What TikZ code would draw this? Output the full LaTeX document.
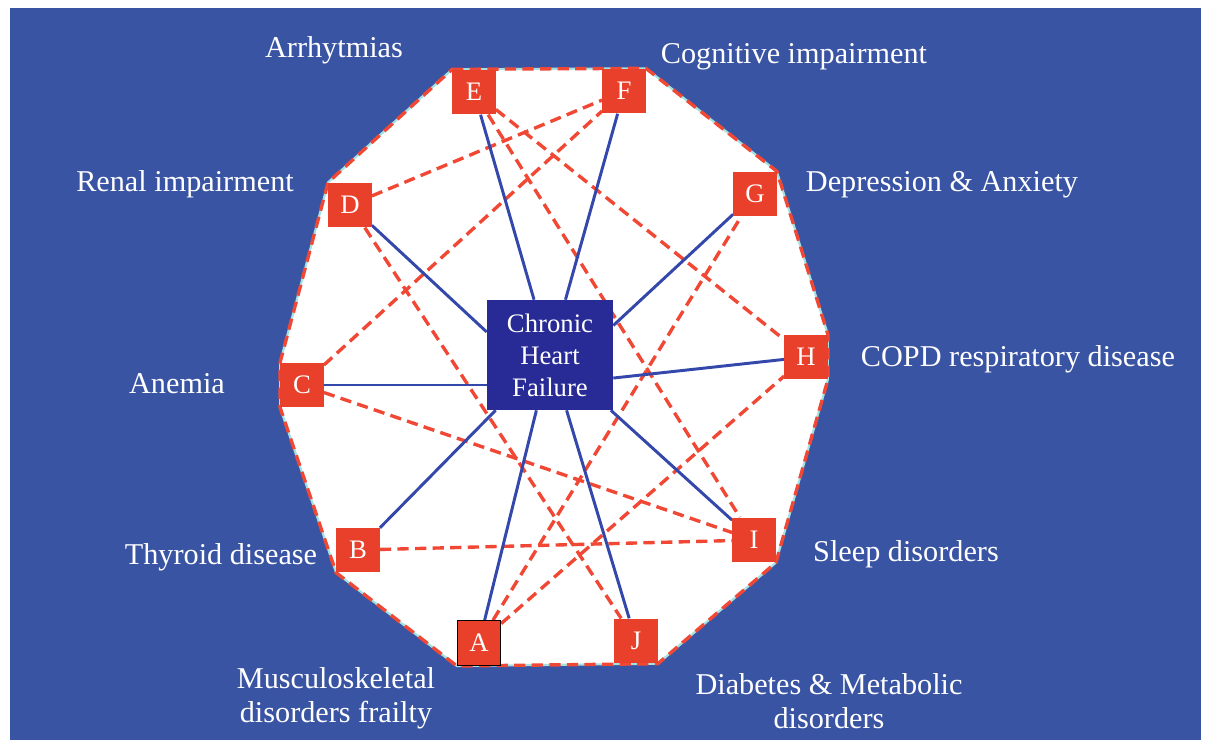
\documentclass[tikz,border=0pt]{standalone}
\usepackage{fontspec}
\setmainfont{Liberation Serif}
\usetikzlibrary{positioning}

\definecolor{bgblue}{RGB}{58,84,164}
\definecolor{hubblue}{RGB}{40,42,150}
\definecolor{boxred}{RGB}{232,64,42}
\definecolor{linkred}{RGB}{240,72,52}
\definecolor{spokeblue}{RGB}{52,72,172}
\definecolor{rimcyan}{RGB}{165,225,225}

\pgfdeclarelayer{bg}
\pgfdeclarelayer{links}
\pgfsetlayers{bg,links,main}

\begin{document}
\begin{tikzpicture}[x=0.025cm, y=-0.025cm,
    cond/.style={fill=boxred, text=white, minimum width=1.08cm, minimum height=1.12cm,
      inner sep=0pt, font=\fontsize{19}{22}\selectfont},
    hub/.style={fill=hubblue, text=white, minimum width=3.15cm, minimum height=2.75cm,
      inner sep=0pt, align=center, font=\fontsize{19}{22.8}\selectfont},
    lbl/.style={text=white, align=center, font=\fontsize{21.5}{24}\selectfont},
    spoke/.style={spokeblue, line width=2.1pt},
    link/.style={linkred, line width=2.4pt, dash pattern=on 8pt off 4.5pt}]
    \useasboundingbox (0,0) rectangle (1210,744);

    % Central condition
    \node[hub] (chf) at (550,355) {Chronic\\Heart\\Failure};

    % Comorbidities
    \node[cond, draw=black, line width=0.8pt] (A) at (479,643) {A};
    \node[cond] (B) at (358,550) {B};
    \node[cond] (C) at (302,385) {C};
    \node[cond] (D) at (350,205) {D};
    \node[cond] (E) at (474,92) {E};
    \node[cond] (F) at (624,91) {F};
    \node[cond] (G) at (755,194) {G};
    \node[cond] (H) at (806,357) {H};
    \node[cond] (I) at (754,540) {I};
    \node[cond] (J) at (636,641) {J};

    % Labels
    \node[lbl] (lA) at (336,698) {Musculoskeletal\\disorders frailty};
    \node[lbl] (lB) at (221,557) {Thyroid disease};
    \node[lbl] (lC) at (177,384) {Anemia};
    \node[lbl] (lD) at (185,184) {Renal impairment};
    \node[lbl] (lE) at (334,50) {Arrhytmias};
    \node[lbl] (lF) at (794,57) {Cognitive impairment};
    \node[lbl] (lG) at (942,185) {Depression \& Anxiety};
    \node[lbl] (lH) at (1018,359) {COPD respiratory disease};
    \node[lbl] (lI) at (906,554) {Sleep disorders};
    \node[lbl] (lJ) at (829,701) {Diabetes \& Metabolic\\disorders};

    % Background and white area
    \begin{pgfonlayer}{bg}
        \fill[white] (0,0) rectangle (1210,744);
        \fill[bgblue] (10,8) rectangle (1201,740);
        \filldraw[fill=white, draw=rimcyan, line width=1.5pt]
            (E.north west) -- (F.north east) -- (G.north east) -- (H.north east)
            -- (H.south east) -- (I.south east) -- (J.south east) -- (A.south west)
            -- (B.south west) -- (C.south west) -- (C.north west) -- (D.north west) -- cycle;
    \end{pgfonlayer}

    % Links
    \begin{pgfonlayer}{links}
        \draw[link] (E.north west) -- (F.north east) -- (G.north east) -- (H.north east)
            -- (H.south east) -- (I.south east) -- (J.south east) -- (A.south west)
            -- (B.south west) -- (C.south west) -- (C.north west) -- (D.north west) -- cycle;
        \draw[link] (D) -- (F);
        \draw[link] (C) -- (F);
        \draw[link] (D) -- (J);
        \draw[link] (E) -- (I);
        \draw[link] (E) -- (H);
        \draw[link] (C) -- (I);
        \draw[link] (B) -- (I);
        \draw[link] (A) -- (G);
        \draw[link] (A) -- (H);
        % spokes from the hub
        \foreach \n in {A,B,E,F,I,J}
            \draw[spoke] (chf) -- (\n);
        \draw[spoke] (chf.west |- C) -- (C);
        \draw[spoke] (chf.160) -- (D);
        \draw[spoke] (chf.25) -- (G);
        \draw[spoke] (chf.-20) -- (H);
    \end{pgfonlayer}
\end{tikzpicture}
\end{document}
